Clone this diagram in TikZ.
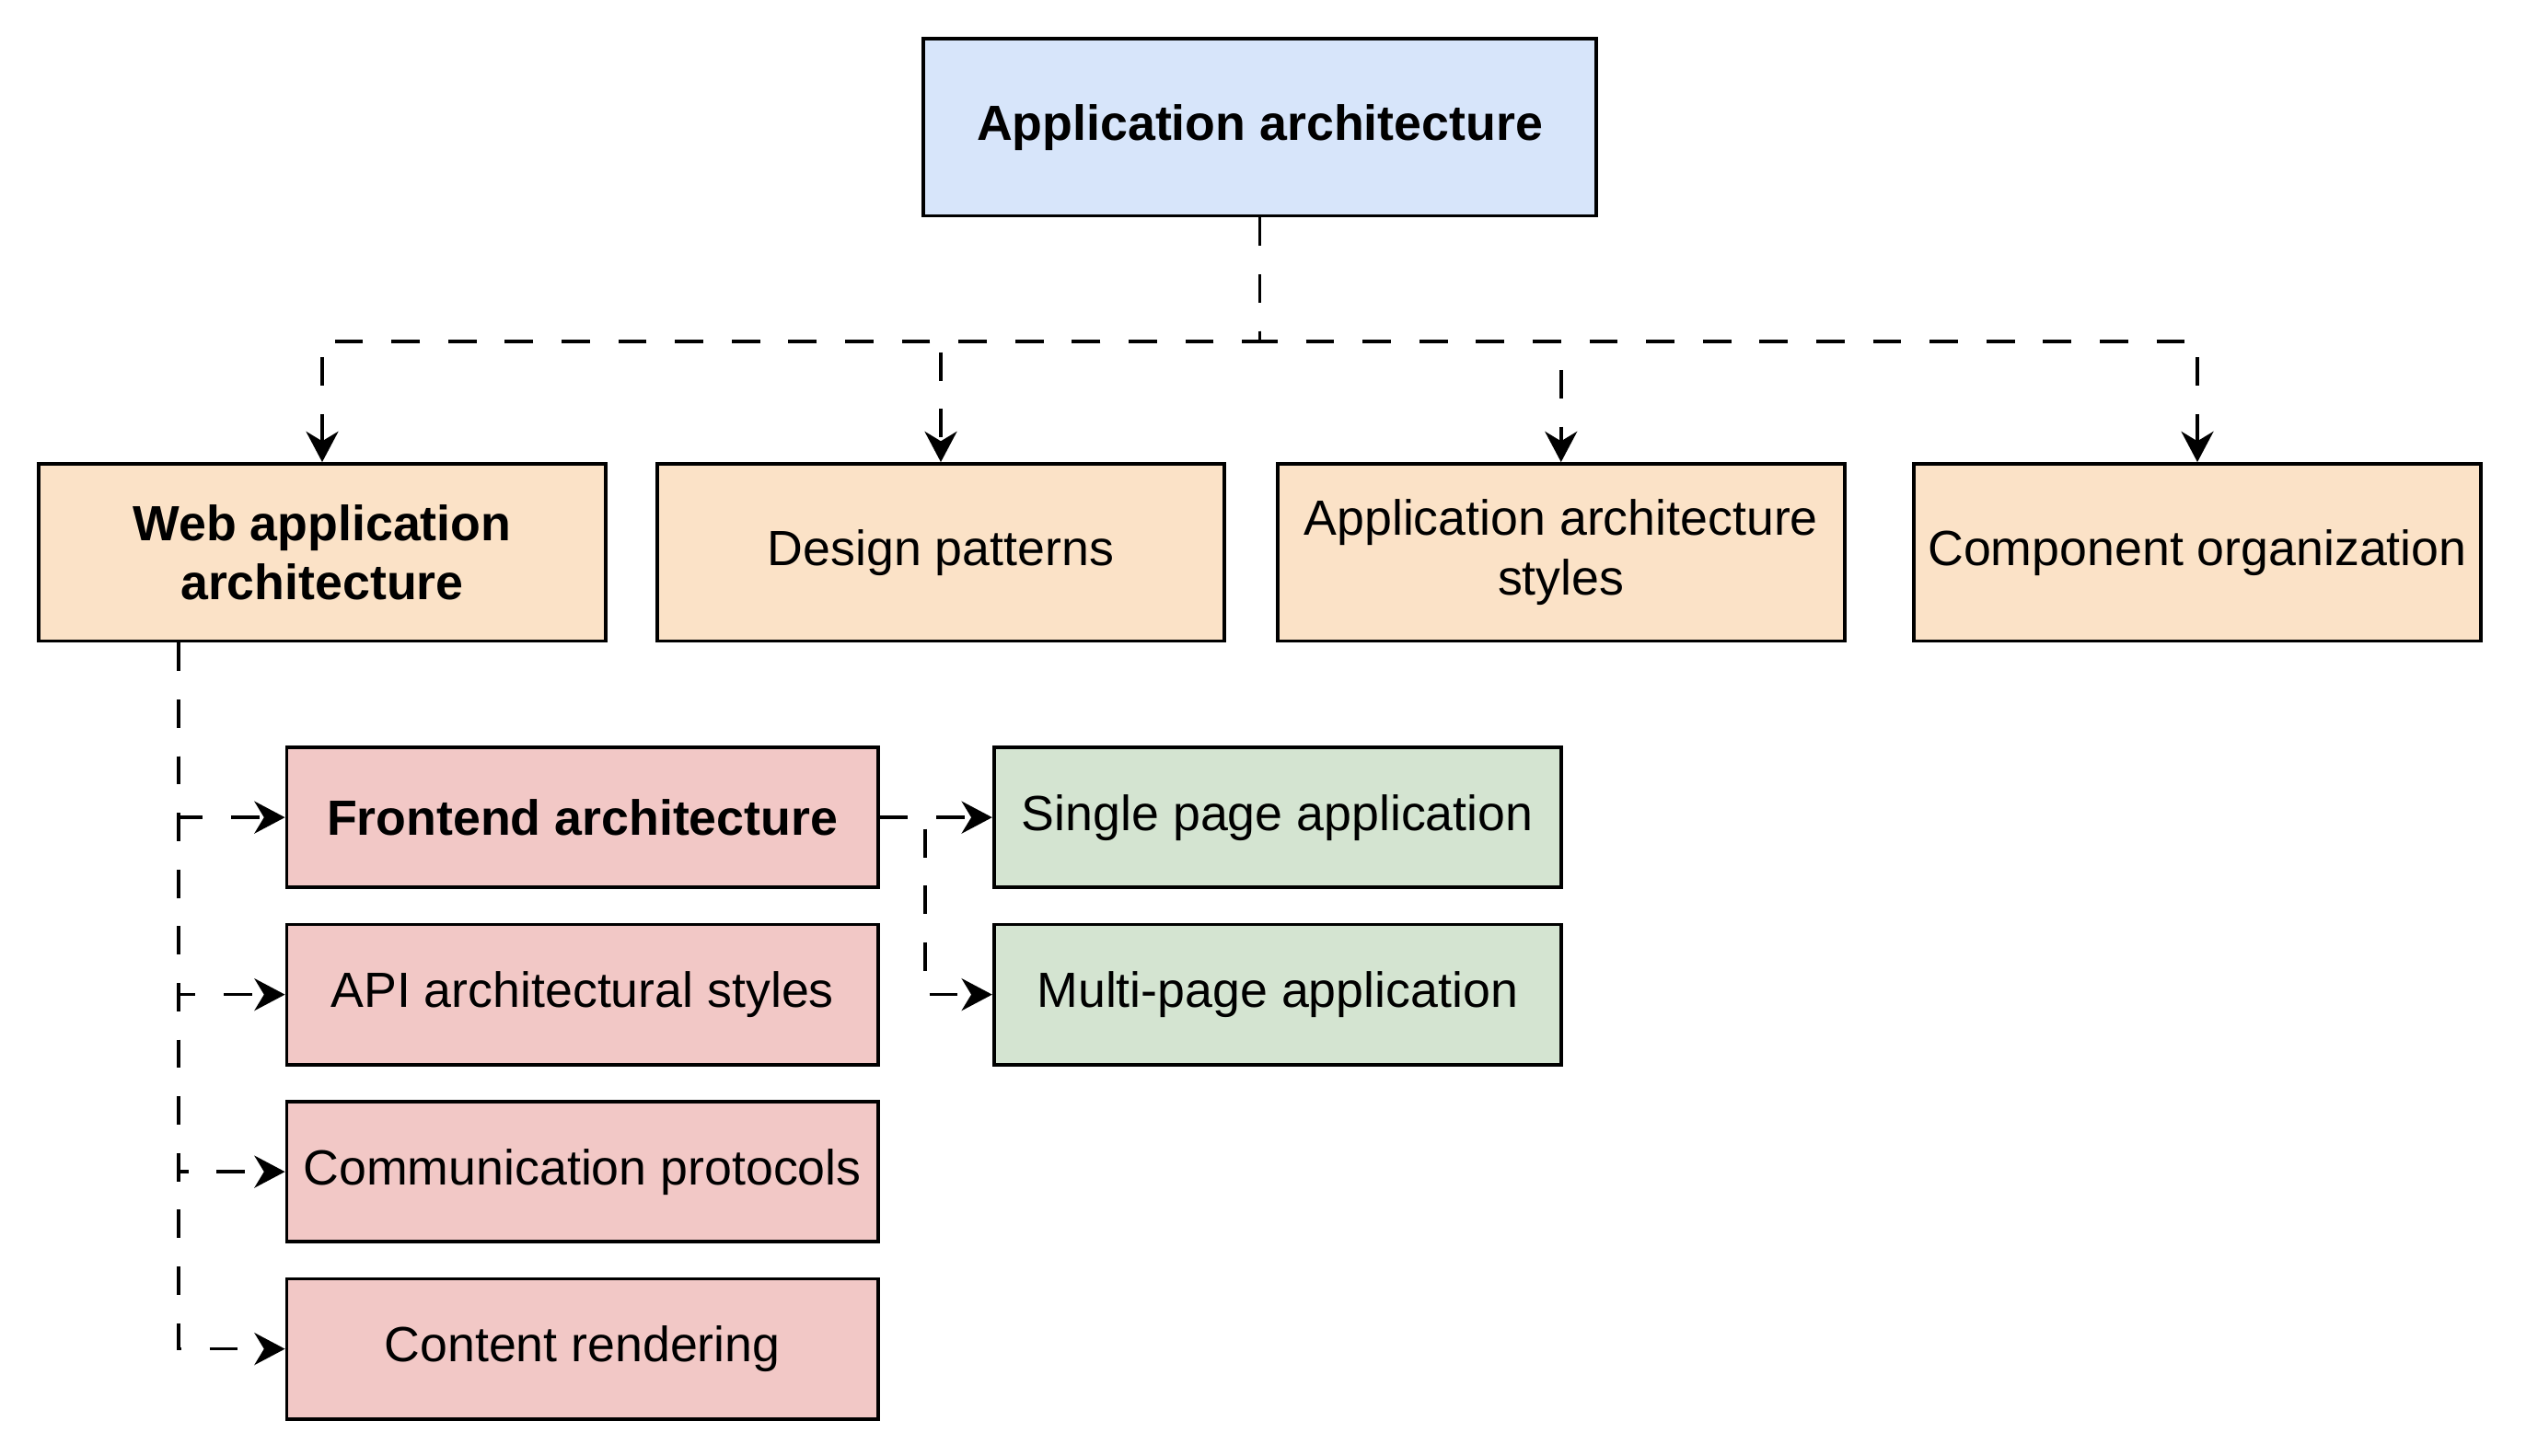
\documentclass[tikz,border=0pt]{standalone}
\usepackage{fontspec}
\setmainfont{Liberation Sans}
\usepackage{tikz}
\usetikzlibrary{arrows.meta,positioning}
\definecolor{archblue}{HTML}{D7E5FA}
\definecolor{archorange}{HTML}{FBE2C7}
\definecolor{archred}{HTML}{F2C8C6}
\definecolor{archgreen}{HTML}{D4E4D1}
\tikzset{
  archfont/.style={ font=\fontsize{15.35}{18.5}\selectfont }
}
\tikzset{
  rootbox/.style={ draw, line width=1.1pt, fill=archblue, archfont, align=center,
    minimum width=209pt, minimum height=55pt, inner sep=2pt }
}
\tikzset{
  areabox/.style={ draw, line width=1.1pt, fill=archorange, archfont, align=center,
    minimum width=176pt, minimum height=55pt, inner sep=2pt }
}
\tikzset{
  webbox/.style={ draw, line width=1.1pt, fill=archred, archfont, align=center,
    minimum width=183.5pt, minimum height=43.5pt, inner sep=2pt }
}
\tikzset{
  pagebox/.style={ draw, line width=1.1pt, fill=archgreen, archfont, align=center,
    minimum width=176pt, minimum height=43.5pt, inner sep=2pt }
}
\tikzset{
  link/.style={ line width=1.05pt, dash pattern=on 8.8pt off 8.8pt,
    -{Stealth[length=9.5pt, width=10pt, inset=3pt]} }
}

\begin{document}
\begin{tikzpicture}[x=0.5pt, y=-0.5pt]
      \useasboundingbox (0,0) rectangle (1568,904);

      \node[rootbox] (app) at (782, 79) {\bfseries Application architecture};

      \node[areabox] (web) at (200, 343) {\bfseries Web application\\\bfseries architecture};
      \node[areabox] (design) at (584, 343) {Design patterns};
      \node[areabox] (styles) at (969, 343) {Application architecture\\styles};
      \node[areabox] (comp) at (1364, 343) {Component organization};

      \node[webbox] (front) at (361.5, 507.5) {\bfseries Frontend architecture};
      \node[webbox] (api) at (361.5, 617.5) {API architectural styles};
      \node[webbox] (proto) at (361.5, 727.5) {Communication protocols};
      \node[webbox] (render) at (361.5, 837.5) {Content rendering};

      \node[pagebox] (spa) at (793, 507.5) {Single page application};
      \node[pagebox] (mpa) at (793, 617.5) {Multi-page application};

      \begin{scope}[link]
        \draw (app.south) -- ++(0,77) -| (web.north);
        \draw (app.south) -- ++(0,77) -| (design.north);
        \draw (app.south) -- ++(0,77) -| (styles.north);
        \draw (app.south) -- ++(0,77) -| (comp.north);

        \draw ([xshift=44pt]web.south west) |- (front.west);
        \draw ([xshift=44pt]web.south west) |- (api.west);
        \draw ([xshift=44pt]web.south west) |- (proto.west);
        \draw ([xshift=44pt]web.south west) |- (render.west);

        \draw (front.east) -- (spa.west);
        \draw (front.east) -- ++(28,0) |- (mpa.west);
      \end{scope}
    \end{tikzpicture}
\end{document}
